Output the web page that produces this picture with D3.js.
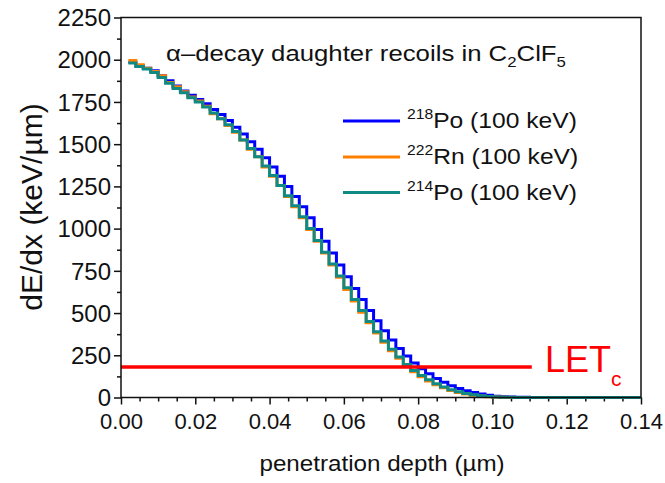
<!DOCTYPE html>
<html>
<head>
<meta charset="utf-8">
<script src="https://cdn.jsdelivr.net/npm/d3@7.9.0/dist/d3.min.js"></script>
<style>
  body { margin: 0; background: #fff; }
  svg text { font-family: "Liberation Sans", Arial, sans-serif; fill: #111; }
</style>
</head>
<body>
<svg id="chart" width="665" height="483"></svg>
<script>
// bin starts (µm), 0.002 wide
const depths = d3.range(55).map(i => +(0.002 * (i + 1)).toFixed(3));

const po218 = [1985,1965,1950,1935,1905,1875,1845,1815,1790,1765,
  1740,1705,1675,1640,1600,1560,1515,1470,1420,1365,
  1310,1250,1190,1130,1065,995,925,855,785,715,
  645,580,515,455,395,340,290,245,205,170,
  140,112,90,70,54,40,29,20,13,8,
  5,3,2,1,0];
const rn222 = [1995,1970,1950,1930,1905,1865,1840,1810,1780,1755,
  1725,1680,1650,1610,1570,1525,1470,1425,1365,1310,
  1255,1190,1130,1065,995,925,855,785,712,640,
  572,505,442,382,327,277,232,190,153,123,
  98,76,57,42,30,21,14,9,5,3,
  1,0,0,0,0];
const po214 = [1980,1960,1945,1925,1895,1860,1830,1805,1775,1750,
  1720,1685,1650,1615,1575,1525,1475,1425,1370,1315,
  1255,1195,1135,1070,1000,930,860,790,720,650,
  580,515,450,390,335,285,240,195,160,130,
  105,82,62,46,34,24,16,10,6,3,
  2,1,0,0,0];

const seriesNames = ['218', '222', '214'];
const seriesElems = ['Po', 'Rn', 'Po'];
const seriesEnds = [0.112, 0.112, 0.14];
const letC = 180;
const letEnd = 0.1106;

const xTicks = [0, 0.02, 0.04, 0.06, 0.08, 0.10, 0.12, 0.14];
const yTicks = [0, 250, 500, 750, 1000, 1250, 1500, 1750, 2000, 2250];

const colors = ['#0000ff', '#ff8000', '#0f8a84'];
const allSeries = [po218, rn222, po214];

const svg = d3.select('#chart');
const x = d3.scaleLinear().domain([0, 0.14]).range([121, 641]);
const y = d3.scaleLinear().domain([0, 2250]).range([397.5, 17.5]);

// minor ticks
svg.append('g').attr('transform', 'translate(121,0)')
  .call(d3.axisLeft(y).tickValues(d3.range(125, 2250, 250)).tickSize(4).tickFormat(''))
  .call(g => g.select('.domain').remove());
svg.append('g').attr('transform', 'translate(0,397.5)')
  .call(d3.axisBottom(x).tickValues(d3.range(0.005, 0.14, 0.01).concat(d3.range(0.01, 0.14, 0.02))).tickSize(4).tickFormat(''))
  .call(g => g.select('.domain').remove());

let yAxis = svg.append('g').attr('transform', 'translate(121,0)')
  .call(d3.axisLeft(y).tickValues(yTicks).tickSize(7).tickPadding(3).tickFormat(d3.format('d')))
  .call(g => g.select('.domain').remove());
yAxis.selectAll('text').attr('font-size', 24).attr('dy', '0.34em');

let xAxis = svg.append('g').attr('transform', 'translate(0,397.5)')
  .call(d3.axisBottom(x).tickValues(xTicks).tickSize(7).tickPadding(9).tickFormat(d3.format('.2f')))
  .call(g => g.select('.domain').remove());
xAxis.selectAll('text').attr('font-size', 22);

svg.selectAll('.tick line').attr('stroke', '#111').attr('stroke-width', 1.5);

// curves
allSeries.forEach((vals, k) => {
  let pts = depths.map((d, i) => [d, vals[i]]);
  pts.push([seriesEnds[k], vals[vals.length - 1]]);
  svg.append('path')
    .datum(pts)
    .attr('fill', 'none')
    .attr('stroke', colors[k])
    .attr('stroke-width', 3)
    .attr('d', d3.line().x(d => x(d[0])).y(d => y(d[1])).curve(d3.curveStepAfter));
});

// LETc line
svg.append('line')
  .attr('x1', x(0)).attr('x2', x(letEnd))
  .attr('y1', y(letC)).attr('y2', y(letC))
  .attr('stroke', '#ff0000').attr('stroke-width', 3.5);
let lt = svg.append('text').attr('x', 545).attr('y', 372).attr('font-size', 36).style('fill', '#ff0000');
lt.append('tspan').text('LET');
lt.append('tspan').attr('font-size', 21).attr('dy', 14).text('c');

// frame
svg.append('rect').attr('x', 121).attr('y', 17.5).attr('width', 520).attr('height', 380)
  .attr('fill', 'none').attr('stroke', '#111').attr('stroke-width', 1.5);

// title (slightly wide lettering, like the original)
let t = svg.append('text').attr('transform', 'translate(166,61) scale(1.12,1)').attr('font-size', 23);
t.append('tspan').text('α–decay daughter recoils in C');
t.append('tspan').attr('font-size', 15).attr('dy', 6).text('2');
t.append('tspan').attr('dy', -6).text('ClF');
t.append('tspan').attr('font-size', 15).attr('dy', 6).text('5');

// legend
const legY = [121, 157, 192.5];
allSeries.forEach((vals, k) => {
  svg.append('line').attr('x1', 343).attr('x2', 400).attr('y1', legY[k]).attr('y2', legY[k])
    .attr('stroke', colors[k]).attr('stroke-width', 3);
  let lg = svg.append('text').attr('transform', `translate(407,${legY[k] + 7}) scale(1.12,1)`).attr('font-size', 22);
  lg.append('tspan').attr('font-size', 14).attr('dy', -9).text(seriesNames[k]);
  lg.append('tspan').attr('dy', 9).text(seriesElems[k] + ' (100 keV)');
});

// axis titles
svg.append('text').attr('transform', 'translate(42,207) rotate(-90)')
  .attr('text-anchor', 'middle').attr('font-size', 30).text('dE/dx (keV/µm)');
svg.append('text').attr('transform', 'translate(382,471) scale(1.1,1)')
  .attr('text-anchor', 'middle').attr('font-size', 22).text('penetration depth (µm)');
</script>
</body>
</html>
